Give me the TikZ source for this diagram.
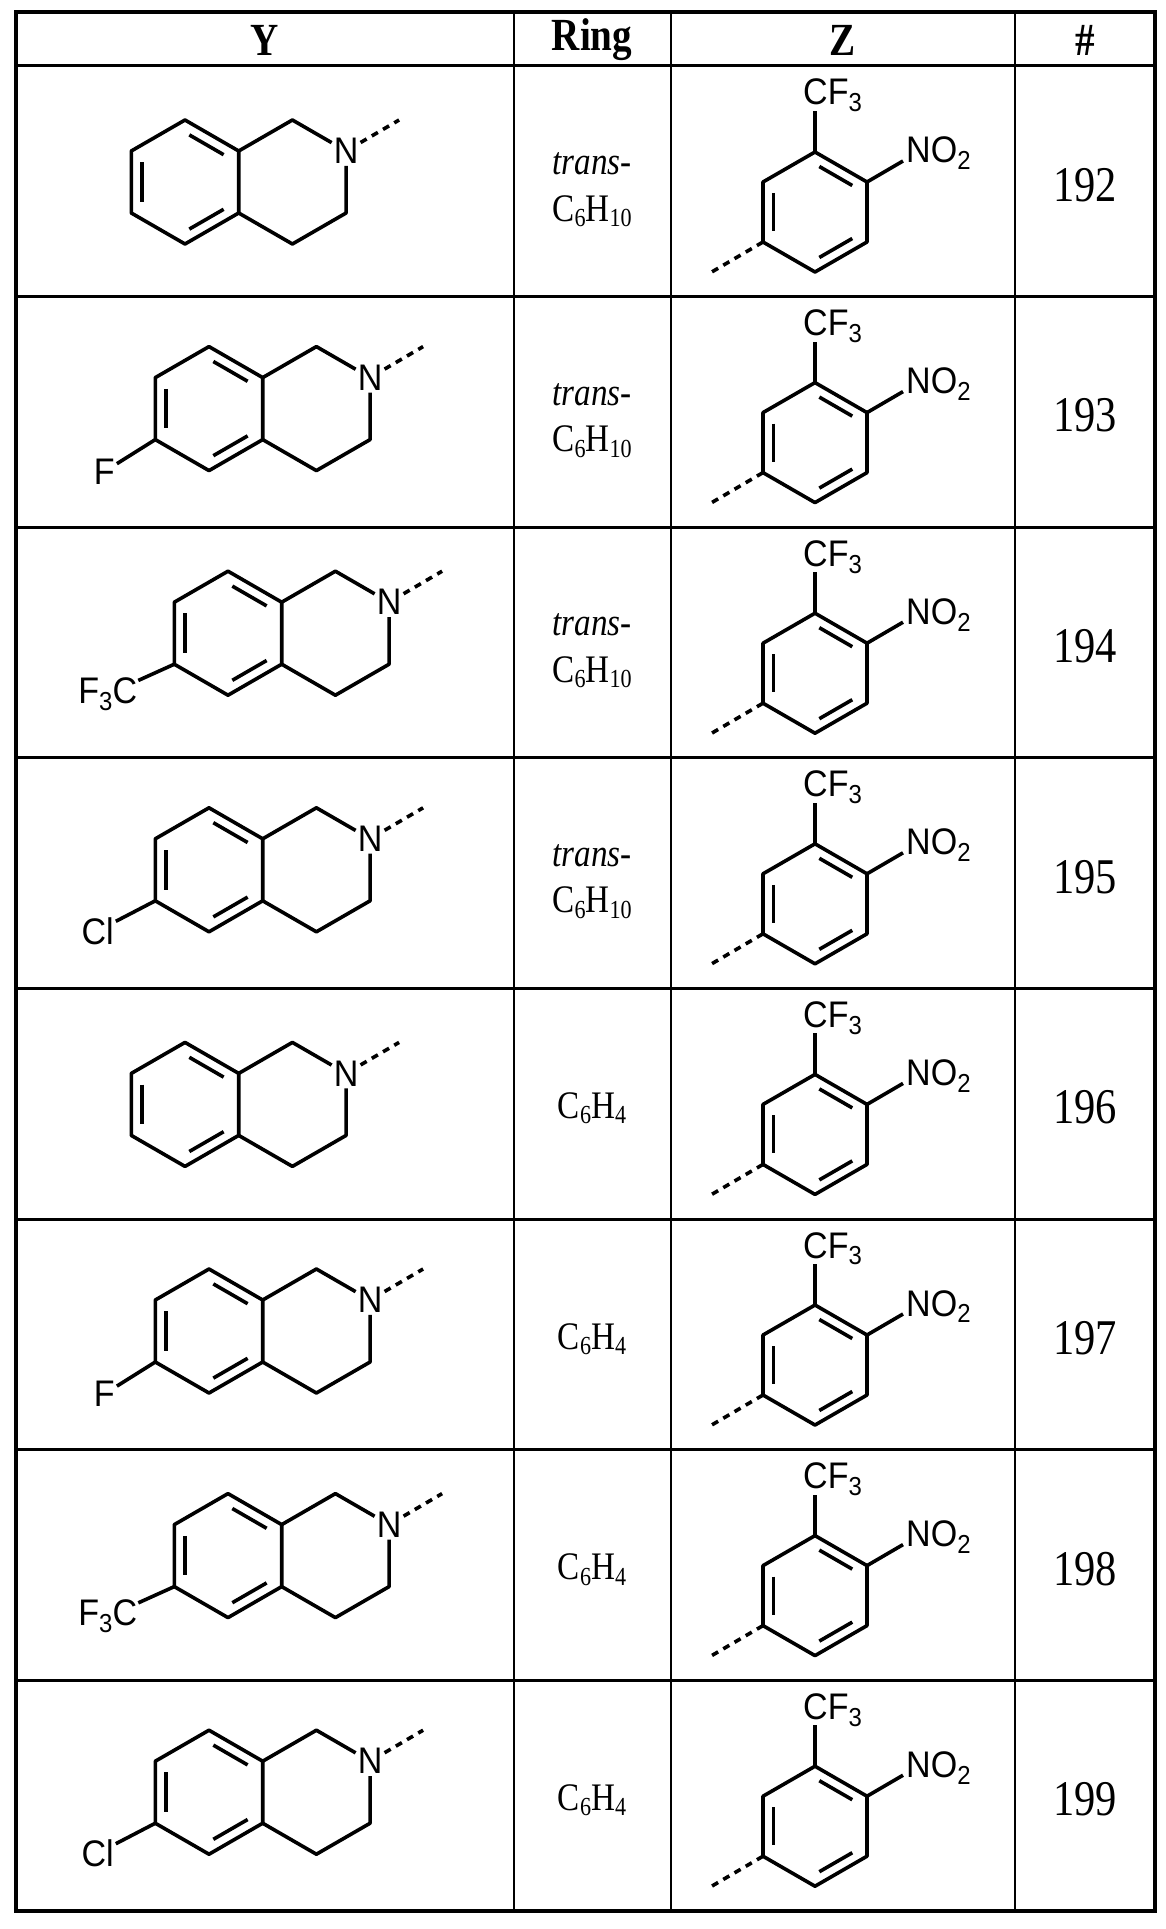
\documentclass[tikz,border=0pt]{standalone}
\usepackage{fontspec}
\setmainfont[FakeStretch=0.85]{Liberation Serif}
\newfontfamily\atomfont[FakeStretch=0.92]{Liberation Sans}
\usetikzlibrary{calc}
\newcommand{\mysub}[1]{\raisebox{-0.35ex}{\fontsize{26}{26}\selectfont #1}}
\newcommand{\tsub}[1]{\raisebox{-0.3ex}{\fontsize{26}{26}\selectfont #1}}
\tikzset{
 bond/.style={line width=3.6pt},
 dbond/.style={line width=3.6pt,dash pattern=on 7pt off 6pt},
 atom/.style={font=\atomfont\fontsize{37}{37}\selectfont,inner sep=2pt},
 cell/.style={font=\fontsize{50}{50}\selectfont},
 ringtxt/.style={font=\fontsize{39}{39}\selectfont},
 head/.style={font=\bfseries\fontsize{46}{46}\selectfont},
 inner/.style={line width=3.6pt,shorten <=5pt,shorten >=5pt}
}
\newcommand{\ymol}[3]{%
\begin{scope}[shift={(#1,#2)}]
\coordinate (C) at (0,0);
\coordinate (T) at (0,-62);\coordinate (UR) at (53.7,-31);\coordinate (LR) at (53.7,31);
\coordinate (B) at (0,62);\coordinate (LL) at (-53.7,31);\coordinate (UL) at (-53.7,-31);
\coordinate (T2) at (107.4,-62);\node[atom] (N) at (161.1,-31) {N};
\coordinate (LR2) at (161.1,31);\coordinate (B2) at (107.4,62);
\draw[bond,line join=round] (T)--(UR)--(LR)--(B)--(LL)--(UL)--cycle;
\draw[bond,line join=round] (UR)--(T2)--(N);
\draw[bond,line join=round] (N)--(LR2)--(B2)--(LR);
\draw[dbond] (N) -- ++(53,-31);
\draw[inner] ($(C)!0.8!(UL)$) -- ($(C)!0.8!(LL)$);
\draw[inner] ($(C)!0.8!(T)$) -- ($(C)!0.8!(UR)$);
\draw[inner] ($(C)!0.8!(B)$) -- ($(C)!0.8!(LR)$);
\ifcase#3\relax
\or \node[atom] (X) at ($(LL)+(-51,32)$) {F};\draw[bond] (LL)--(X);
\or \node[atom,anchor=east,inner sep=1pt] (X) at ($(LL)+(-36,30)$) {F\mysub{3}C};\draw[bond] (LL)--(X);
\or \node[atom,anchor=west] (X) at ($(LL)+(-76,30)$) {Cl};\draw[bond] (LL)--(X);
\fi
\end{scope}}
\newcommand{\zmol}[2]{%
\begin{scope}[shift={(#1,#2)}]
\coordinate (C) at (0,0);
\coordinate (T) at (0,-60);\coordinate (UR) at (52,-30);\coordinate (LR) at (52,30);
\coordinate (B) at (0,60);\coordinate (LL) at (-52,30);\coordinate (UL) at (-52,-30);
\draw[bond,line join=round] (T)--(UR)--(LR)--(B)--(LL)--(UL)--cycle;
\draw[inner] ($(C)!0.8!(UL)$) -- ($(C)!0.8!(LL)$);
\draw[inner] ($(C)!0.8!(T)$) -- ($(C)!0.8!(UR)$);
\draw[inner] ($(C)!0.8!(B)$) -- ($(C)!0.8!(LR)$);
\coordinate (cf) at (0,-101);\draw[bond] (T)--(cf);
\node[atom,anchor=base west,inner sep=0pt] at (-12,-107) {CF\mysub{3}};
\coordinate (no) at (88,-51);\draw[bond] (UR)--(no);
\node[atom,anchor=base west,inner sep=0pt] at (91,-49) {NO\mysub{2}};
\coordinate (zd) at (-105,61);\draw[dbond] (LL)--(zd);
\end{scope}}
\newcommand{\trow}[4]{% k, subst, ringtype(1 trans), number
\pgfmathsetmacro{\rt}{66+230.6*#1}
\ifcase#2\relax \ymol{185}{\rt+116}{0}\or \ymol{209}{\rt+112}{1}\or \ymol{228}{\rt+106}{2}\or \ymol{209}{\rt+112}{3}\fi
\zmol{815}{\rt+146}
\ifnum#3=1
\node[ringtxt] at (592,\rt+98) {\textit{trans}-};
\node[ringtxt] at (592,\rt+145) {C\tsub{6}H\tsub{10}};
\else
\node[ringtxt] at (592,\rt+120) {C\tsub{6}H\tsub{4}};
\fi
\node[cell] at (1085,\rt+119) {#4};
}
\begin{document}
\begin{tikzpicture}[x=1pt,y=-1pt]
\useasboundingbox (0,0) rectangle (1166,1929);
\fill[white] (0,0) rectangle (1166,1929);
\foreach \k in {1,...,7} {\draw[line width=3pt] (16,66+230.6*\k) -- (1155,66+230.6*\k);}
\draw[line width=3pt] (16,66) -- (1155,66);
\foreach \xx in {514,671,1015} {\draw[line width=2.2pt] (\xx,12) -- (\xx,1911);}
\draw[line width=4pt] (16,12) rectangle (1155,1911);
\node[head] at (265,40) {Y};
\node[head] at (592,40) {Ring};
\node[head] at (843,40) {Z};
\node[head] at (1085,40) {\#};
\trow{0}{0}{1}{192}
\trow{1}{1}{1}{193}
\trow{2}{2}{1}{194}
\trow{3}{3}{1}{195}
\trow{4}{0}{0}{196}
\trow{5}{1}{0}{197}
\trow{6}{2}{0}{198}
\trow{7}{3}{0}{199}
\end{tikzpicture}
\end{document}
